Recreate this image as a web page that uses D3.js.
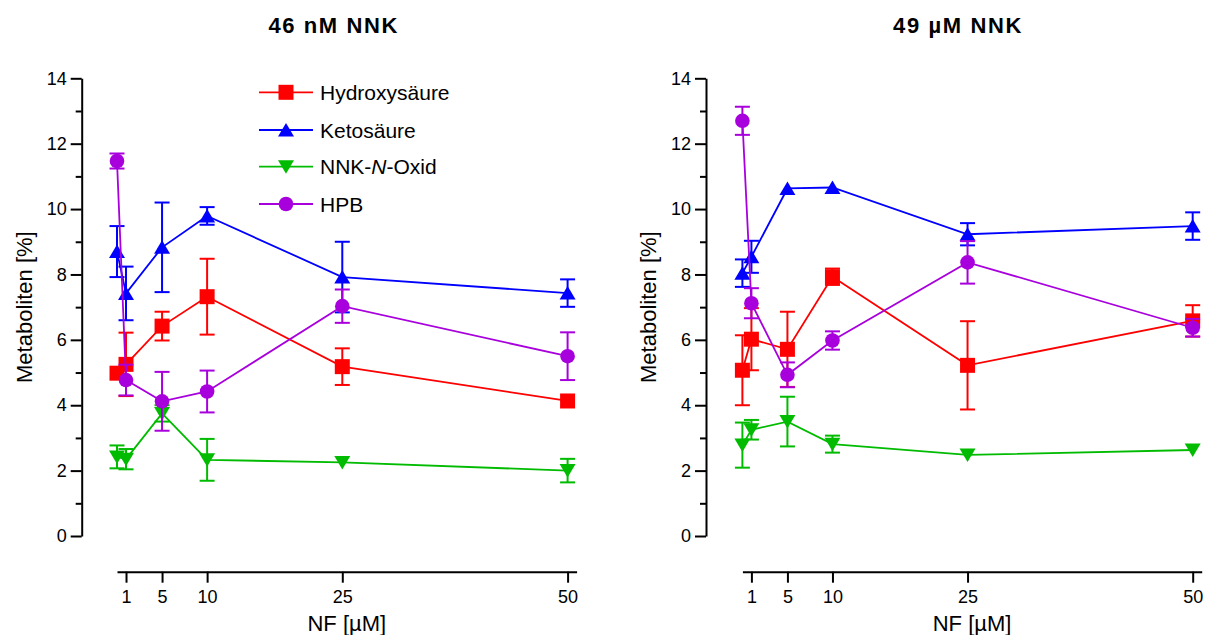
<!DOCTYPE html>
<html>
<head>
<meta charset="utf-8">
<script src="https://cdn.jsdelivr.net/npm/d3@7"></script>
<style>
  html, body { margin: 0; padding: 0; background: #fff; }
  svg { display: block; font-family: Arial, "Liberation Sans", sans-serif; }
</style>
</head>
<body>
<svg id="chart" width="1210" height="635"></svg>
<script>
// ---------- data ----------
const xValues = [0, 1, 5, 10, 25, 50];
const xTickValues = [1, 5, 10, 25, 50];
const yTickValues = [0, 2, 4, 6, 8, 10, 12, 14];
const yMinorTickValues = [1, 3, 5, 7, 9, 11, 13];
const seriesNames = ["Hydroxysäure", "Ketosäure", "NNK-N-Oxid", "HPB"];
const panelTitles = ["46 nM NNK", "49 µM NNK"];
const xTitle = "NF [µM]";
const yTitle = "Metaboliten [%]";

// 46 nM NNK (0 = error bar hidden behind the symbol)
const hydroxy46 = [4.98, 5.25, 6.42, 7.32, 5.18, 4.13];
const hydroxy46Err = [0, 0.97, 0.44, 1.16, 0.56, 0];
const keto46 = [8.70, 7.42, 8.83, 9.79, 7.92, 7.43];
const keto46Err = [0.78, 0.82, 1.37, 0.27, 1.08, 0.42];
const oxid46 = [2.42, 2.35, 3.75, 2.33, 2.25, 2.00];
const oxid46Err = [0.35, 0.31, 0.25, 0.64, 0, 0.36];
const hpb46 = [11.47, 4.77, 4.12, 4.42, 7.03, 5.50];
const hpb46Err = [0.23, 0.47, 0.90, 0.64, 0.51, 0.73];

// 49 µM NNK
const hydroxy49 = [5.07, 6.02, 5.71, 7.93, 5.22, 6.58];
const hydroxy49Err = [1.07, 0.95, 1.15, 0.25, 1.35, 0.48];
const keto49 = [8.04, 8.54, 10.63, 10.66, 9.23, 9.48];
const keto49Err = [0.42, 0.49, 0, 0, 0.34, 0.42];
const oxid49 = [2.78, 3.25, 3.50, 2.81, 2.48, 2.63];
const oxid49Err = [0.69, 0.30, 0.76, 0.26, 0, 0];
const hpb49 = [12.70, 7.12, 4.93, 5.98, 8.37, 6.37];
const hpb49Err = [0.43, 0.46, 0.38, 0.28, 0.65, 0.27];

// ---------- styling ----------
const colors = ["#ff0000", "#0000ff", "#00bb00", "#a800dc"];
const shapes = ["square", "triangleUp", "triangleDown", "circle"];

const panels = [
  { title: panelTitles[0], yAxisX: 81.7, xRange: [117, 576.6],
    series: [[hydroxy46, hydroxy46Err], [keto46, keto46Err], [oxid46, oxid46Err], [hpb46, hpb46Err]], legend: true },
  { title: panelTitles[1], yAxisX: 706, xRange: [742.4, 1201.7],
    series: [[hydroxy49, hydroxy49Err], [keto49, keto49Err], [oxid49, oxid49Err], [hpb49, hpb49Err]], legend: false }
];

const svg = d3.select("#chart");
const yRange = [536, 78.3];
const xAxisY = 571.7;

function markerPath(shape) {
  const s = 7.5;
  if (shape === "square") return `M${-s},${-s}H${s}V${s}H${-s}Z`;
  if (shape === "triangleUp") return `M0,-7 L8,6.5 L-8,6.5 Z`;
  if (shape === "triangleDown") return `M0,7 L8,-6.5 L-8,-6.5 Z`;
  return d3.symbol(d3.symbolCircle, Math.PI * 7.3 * 7.3)();
}

panels.forEach(p => {
  const g = svg.append("g");
  const x = d3.scaleLinear().domain([0, 51]).range(p.xRange);
  const y = d3.scaleLinear().domain([0, 14]).range(yRange);

  // Y axis
  const yAx = g.append("g").attr("transform", `translate(${p.yAxisX},0)`)
    .call(d3.axisLeft(y).tickValues(yTickValues).tickSize(11).tickSizeOuter(0).tickPadding(4).tickFormat(d3.format("d")));
  yAx.append("g").call(d3.axisLeft(y).tickValues(yMinorTickValues).tickSize(6).tickSizeOuter(0).tickFormat(""))
    .select(".domain").remove();
  yAx.selectAll("path.domain").attr("stroke-width", 2);
  yAx.selectAll("line").attr("stroke-width", 2);
  yAx.selectAll("text").attr("font-size", 18).attr("fill", "#000").attr("font-family", "Arial, 'Liberation Sans', sans-serif");

  // X axis
  const xAx = g.append("g").attr("transform", `translate(0,${xAxisY})`)
    .call(d3.axisBottom(x).tickValues(xTickValues).tickSize(11).tickSizeOuter(0).tickPadding(7.5));
  xAx.selectAll("path.domain").attr("stroke-width", 2);
  xAx.selectAll("line").attr("stroke-width", 2);
  xAx.selectAll("text").attr("font-size", 18).attr("fill", "#000").attr("font-family", "Arial, 'Liberation Sans', sans-serif");

  // Titles
  g.append("text").attr("x", p.yAxisX + 252).attr("y", 33.3)
    .attr("text-anchor", "middle").attr("font-size", 22).attr("font-weight", "bold")
    .attr("letter-spacing", "1.6px").text(p.title);
  g.append("text").attr("x", (p.xRange[0] + p.xRange[1]) / 2).attr("y", 631)
    .attr("text-anchor", "middle").attr("font-size", 22).text(xTitle);
  g.append("text").attr("transform", `translate(${p.yAxisX - 49.7},${(yRange[0] + yRange[1]) / 2}) rotate(-90)`)
    .attr("text-anchor", "middle").attr("font-size", 22).text(yTitle);

  // Series
  const line = d3.line().x(d => x(d.x)).y(d => y(d.v));
  p.series.forEach((s, i) => {
    const pts = xValues.map((xv, k) => ({ x: xv, v: s[0][k], e: s[1][k] }));
    const sg = g.append("g");
    sg.append("path").datum(pts).attr("d", line).attr("fill", "none")
      .attr("stroke", colors[i]).attr("stroke-width", 1.8);
    const eb = sg.selectAll("g.eb").data(pts.filter(d => d.e > 0)).join("g")
      .attr("stroke", colors[i]).attr("stroke-width", 2);
    eb.append("line").attr("x1", d => x(d.x)).attr("x2", d => x(d.x))
      .attr("y1", d => y(d.v + d.e)).attr("y2", d => y(d.v - d.e));
    eb.append("line").attr("x1", d => x(d.x) - 7.5).attr("x2", d => x(d.x) + 7.5)
      .attr("y1", d => y(d.v + d.e)).attr("y2", d => y(d.v + d.e));
    eb.append("line").attr("x1", d => x(d.x) - 7.5).attr("x2", d => x(d.x) + 7.5)
      .attr("y1", d => y(d.v - d.e)).attr("y2", d => y(d.v - d.e));
    sg.selectAll("path.mk").data(pts).join("path").attr("class", "mk")
      .attr("d", markerPath(shapes[i]))
      .attr("transform", d => `translate(${x(d.x)},${y(d.v)})`)
      .attr("fill", colors[i]);
  });

  // Legend
  if (p.legend) {
    const rowsY = [92.3, 130, 166.7, 204];
    const lg = g.append("g");
    seriesNames.forEach((name, i) => {
      lg.append("line").attr("x1", 259).attr("x2", 313).attr("y1", rowsY[i]).attr("y2", rowsY[i])
        .attr("stroke", colors[i]).attr("stroke-width", 1.8);
      lg.append("path").attr("d", markerPath(shapes[i]))
        .attr("transform", `translate(286,${rowsY[i]})`).attr("fill", colors[i]);
      const t = lg.append("text").attr("x", 320).attr("y", rowsY[i]).attr("dy", "0.36em")
        .attr("font-size", 21);
      if (name === "NNK-N-Oxid") {
        t.append("tspan").text("NNK-");
        t.append("tspan").attr("font-style", "italic").text("N");
        t.append("tspan").text("-Oxid");
      } else {
        t.text(name);
      }
    });
  }
});
</script>
</body>
</html>
